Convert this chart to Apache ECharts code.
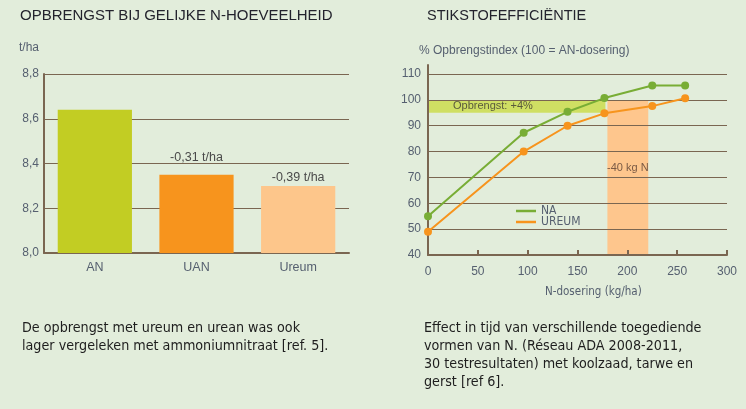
<!DOCTYPE html>
<html><head><meta charset="utf-8">
<script src="https://cdn.jsdelivr.net/npm/echarts@6/dist/echarts.min.js"></script>
<style>html,body{margin:0;padding:0;background:#e2eddb}#c{width:746px;height:409px}</style>
</head><body><div id="c"></div>
<script>
// ---- data ----
const barCategories = ['AN', 'UAN', 'Ureum'];
const barValues = [8.64, 8.35, 8.30];
const barLabels = ['', '-0,31 t/ha', '-0,39 t/ha'];
const barColors = ['#c2cd23', '#f7941d', '#fdc68b'];
const barYTicks = [8.0, 8.2, 8.4, 8.6, 8.8];

const doseX = [0, 96, 140, 177, 225, 258];
const naValues = [55, 87.3, 95.4, 100.7, 105.6, 105.6];
const ureumValues = [49, 80, 90, 94.8, 97.6, 100.6];
const lineNames = ['NA', 'UREUM'];
const gainBandX = [0, 178];
const gainBandY = [95, 100];
const gainBandLabel = 'Opbrengst: +4%';
const savingBandX = [180, 221];
const savingBandY = [40, 100];
const savingBandLabel = '-40 kg N';

const captionLeft = 'De opbrengst met ureum en urean was ook\nlager vergeleken met ammoniumnitraat [ref. 5].';
const captionRight = 'Effect in tijd van verschillende toegediende\nvormen van N. (Réseau ADA 2008-2011,\n30 testresultaten) met koolzaad, tarwe en\ngerst [ref 6].';

// ---- styles ----
const BROWN = '#7a6651';
const LABEL = '#566070';
const F = "'Liberation Sans', Arial, sans-serif";
const FN = "'DejaVu Sans Condensed', 'Liberation Sans', sans-serif";

const chart = echarts.init(document.getElementById('c'));
chart.setOption({
  backgroundColor: '#e2eddb',
  animation: false,
  title: [
    {text: 'OPBRENGST BIJ GELIJKE N-HOEVEELHEID', left: 20, top: 8, padding: 0,
     textStyle: {fontSize: 15, fontWeight: 'normal', color: '#23232d', fontFamily: F}},
    {text: 'STIKSTOFEFFICIËNTIE', left: 427, top: 8, padding: 0,
     textStyle: {fontSize: 14.5, fontWeight: 'normal', color: '#23232d', fontFamily: F}},
    {text: 't/ha', left: 19, top: 42, padding: 0,
     textStyle: {fontSize: 12, fontWeight: 'normal', color: LABEL, fontFamily: F}},
    {text: '% Opbrengstindex (100 = AN-dosering)', left: 419, top: 45, padding: 0,
     textStyle: {fontSize: 12, fontWeight: 'normal', color: LABEL, fontFamily: F}},
    {text: 'N-dosering (kg/ha)', left: 545, top: 286, padding: 0,
     textStyle: {fontSize: 11.5, fontWeight: 'normal', color: LABEL, fontFamily: FN}},
    {text: captionLeft, left: 22, top: 319, padding: 0,
     textStyle: {fontSize: 14.2, lineHeight: 18, fontWeight: 'normal', color: '#1e1e1e', fontFamily: FN}},
    {text: captionRight, left: 424, top: 319, padding: 0,
     textStyle: {fontSize: 14.2, lineHeight: 18, fontWeight: 'normal', color: '#1e1e1e', fontFamily: FN}}
  ],
  legend: {
    data: lineNames, orient: 'vertical', left: 516, top: 205, padding: 0,
    icon: 'rect', itemWidth: 20, itemHeight: 2.5, itemGap: -1,
    textStyle: {fontSize: 12, color: LABEL, fontFamily: FN}
  },
  grid: [
    {left: 44, right: 397, top: 74, bottom: 156},
    {left: 428, right: 19, top: 65, bottom: 154}
  ],
  xAxis: [
    {type: 'category', gridIndex: 0, data: barCategories,
     axisLine: {lineStyle: {color: BROWN, width: 2}},
     axisTick: {inside: true, length: 5, lineStyle: {color: BROWN, width: 2}},
     axisLabel: {color: LABEL, fontSize: 12.5, margin: 8, fontFamily: F}},
    {type: 'value', gridIndex: 1, min: 0, max: 300, interval: 50, z: 3,
     axisLine: {show: true, lineStyle: {color: BROWN, width: 2}},
     axisTick: {show: true, inside: true, length: 5, lineStyle: {color: BROWN, width: 2}},
     splitLine: {show: false},
     axisLabel: {color: LABEL, fontSize: 12, margin: 11, fontFamily: F}}
  ],
  yAxis: [
    {type: 'value', gridIndex: 0, min: barYTicks[0], max: barYTicks[barYTicks.length - 1], interval: 0.2,
     axisLine: {show: true, lineStyle: {color: BROWN, width: 2}},
     axisTick: {show: false},
     splitLine: {lineStyle: {color: BROWN, width: 1}},
     axisLabel: {color: LABEL, fontSize: 12, margin: 5, fontFamily: F,
                 formatter: v => v.toFixed(1).replace('.', ',')}},
    {type: 'value', gridIndex: 1, min: 40, max: 113.5, interval: 10, z: 3,
     axisLine: {show: true, lineStyle: {color: BROWN, width: 2}},
     axisTick: {show: false},
     splitLine: {showMaxLine: false, lineStyle: {color: BROWN, width: 1}},
     axisLabel: {color: LABEL, fontSize: 12, margin: 7, fontFamily: F, showMaxLabel: false}}
  ],
  series: [
    {type: 'bar', xAxisIndex: 0, yAxisIndex: 0, barWidth: '73%',
     data: barValues.map((v, i) => ({
       value: v, itemStyle: {color: barColors[i]},
       label: {show: !!barLabels[i], position: 'top', distance: i === 1 ? 11 : 2,
               formatter: () => barLabels[i], color: '#4a4a4a', fontSize: 12.5, fontFamily: F}
     }))},
    {type: 'line', name: lineNames[0], xAxisIndex: 1, yAxisIndex: 1, z: 5,
     data: doseX.map((x, i) => [x, naValues[i]]),
     color: '#78ad35', lineStyle: {width: 2}, symbol: 'circle', symbolSize: 8,
     markArea: {silent: true, z: 1,
       itemStyle: {color: '#cfdf63'},
       label: {show: true, position: 'insideLeft', distance: 25, color: '#5a5a3c', fontSize: 11, fontFamily: F},
       data: [[{xAxis: gainBandX[0], yAxis: gainBandY[0], name: gainBandLabel},
               {xAxis: gainBandX[1], yAxis: gainBandY[1]}]]}},
    {type: 'line', name: lineNames[1], xAxisIndex: 1, yAxisIndex: 1, z: 5,
     data: doseX.map((x, i) => [x, ureumValues[i]]),
     color: '#f7941d', lineStyle: {width: 2}, symbol: 'circle', symbolSize: 8,
     markArea: {silent: true, z: 1,
       itemStyle: {color: '#fec68d'},
       label: {show: true, position: 'inside', offset: [0, -9], color: '#7a5a45', fontSize: 11, fontFamily: F},
       data: [[{xAxis: savingBandX[0], yAxis: savingBandY[0], name: savingBandLabel},
               {xAxis: savingBandX[1], yAxis: savingBandY[1]}]]}}
  ]
});
</script></body></html>
